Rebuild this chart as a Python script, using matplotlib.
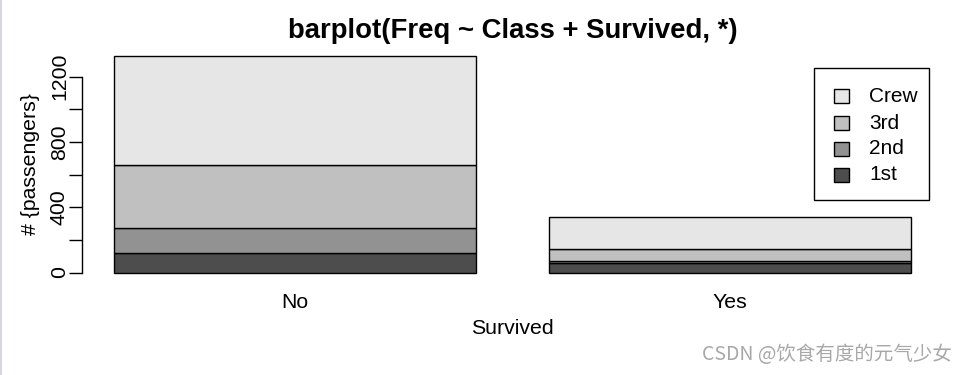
import matplotlib
matplotlib.use("Agg")
import matplotlib.pyplot as plt
from matplotlib.patches import Rectangle
from matplotlib.lines import Line2D
import numpy as np

# ---- data ----
classes = ["1st", "2nd", "3rd", "Crew"]
survived = ["No", "Yes"]
freq_no = [118, 154, 387, 670]
freq_yes = [57, 14, 75, 192]
colors = ["#4D4D4D", "#929292", "#C0C0C0", "#E6E6E6"]
yticks = [0, 200, 400, 600, 800, 1000, 1200]
ytick_labels = ["0", "", "400", "", "800", "", "1200"]

W, H = 968, 375
DPI = 100
fig = plt.figure(figsize=(W / DPI, H / DPI), dpi=DPI)
FONT = ["Liberation Sans", "DejaVu Sans"]
plt.rcParams["font.family"] = FONT
FS = 15.3

def fx(px):
    return px / W

def fy(py):
    return 1 - py / H

# axes in pixels
ax_l, ax_r, ax_t, ax_b = 82, 943, 46.9, 281.2
ax = fig.add_axes([fx(ax_l), fy(ax_b), fx(ax_r - ax_l), (ax_b - ax_t) / H])

data = np.array([freq_no, freq_yes])  # rows: survived, cols: class
width = 1.0
space = 0.2
centers = np.array([space + width / 2 + i * (width + space) for i in range(len(survived))])
bottom = np.zeros(len(survived))
for j, cls in enumerate(classes):
    ax.bar(centers, data[:, j], width=width, bottom=bottom, color=colors[j],
           edgecolor="black", linewidth=1.0, label=cls)
    bottom += data[:, j]

total_max = data.sum(axis=1).max()
x0, x1 = space, centers[-1] + width / 2
dx = (x1 - x0) * 0.04
ax.set_xlim(x0 - dx, x1 + dx)
dy = total_max * 0.04
ax.set_ylim(-dy, total_max + dy)

for s in ["top", "right", "bottom"]:
    ax.spines[s].set_visible(False)
ax.spines["left"].set_bounds(0, 1200)
ax.spines["left"].set_linewidth(1.0)

ax.set_yticks(yticks)
ax.set_yticklabels(ytick_labels, rotation=90, va="center", fontsize=FS)
ax.tick_params(axis="y", length=9.4, width=1.0, pad=0)
ax.set_xticks(centers)
ax.set_xticklabels(survived, fontsize=FS)
ax.tick_params(axis="x", length=0, pad=8.6)

ax.set_xlabel("Survived", fontsize=FS)
ax.xaxis.label.set_va("center")
ax.xaxis.set_label_coords((512.5 - ax_l) / (ax_r - ax_l), -(329 - ax_b) / (ax_b - ax_t))
ax.set_ylabel("# {passengers}", fontsize=FS)
ax.yaxis.label.set_va("center")
ax.yaxis.set_label_coords((31 - ax_l) / (ax_r - ax_l), 0.5)

fig.text(fx(512.5), fy(31), "barplot(Freq ~ Class + Survived, *)", ha="center",
         va="center", fontsize=19.8, fontweight="bold")

# legend (drawn as box with swatches), order reversed: Crew, 3rd, 2nd, 1st
fig.add_artist(Rectangle((fx(814), fy(200)), fx(929 - 814), (200 - 68) / H,
                         transform=fig.transFigure, facecolor="white",
                         edgecolor="black", linewidth=1.0))
row_y = [96, 123, 149, 175]
for k, j in enumerate(range(len(classes) - 1, -1, -1)):
    y = row_y[k]
    fig.add_artist(Rectangle((fx(834), fy(y + 7)), fx(15), 14 / H,
                             transform=fig.transFigure, facecolor=colors[j],
                             edgecolor="black", linewidth=1.0))
    fig.text(fx(869), fy(y), classes[j], ha="left", va="center", fontsize=15)

# left border line and watermark
fig.add_artist(Line2D([fx(1), fx(1)], [0, 1], transform=fig.transFigure,
                      color="#d4d7db", linewidth=1.5))
fig.text(fx(952), fy(354), "CSDN @饮食有度的元气少女", ha="right", va="center",
         fontsize=14, color="#a8a8a8", family=["Noto Sans CJK SC", "DejaVu Sans"])

fig.savefig("out.png", dpi=DPI)
